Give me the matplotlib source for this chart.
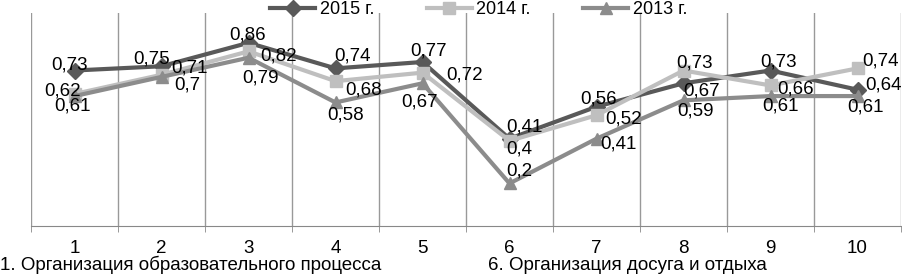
import matplotlib.pyplot as plt

plt.rcParams['font.family'] = ['Liberation Sans', 'DejaVu Sans']

categories = [1, 2, 3, 4, 5, 6, 7, 8, 9, 10]
labels_2015 = '2015 г.'
labels_2014 = '2014 г.'
labels_2013 = '2013 г.'
values_2015 = [0.73, 0.75, 0.86, 0.74, 0.77, 0.41, 0.56, 0.67, 0.73, 0.64]
values_2014 = [0.62, 0.71, 0.82, 0.68, 0.72, 0.40, 0.52, 0.73, 0.66, 0.74]
values_2013 = [0.61, 0.70, 0.79, 0.58, 0.67, 0.20, 0.41, 0.59, 0.61, 0.61]
footnotes = ['1. Организация образовательного процесса', '6. Организация досуга и отдыха']

# label offsets in pixels (dx, dy), Excel-like placement
off_2015 = [(-5, 6), (-10, 7), (-1, 8), (17, 12), (6, 11), (15, 12), (2, 8), (18, -8), (8, 9), (26, 5)]
off_2014 = [(-12, 3), (28, 7), (30, -5), (28, -9), (42, -2), (10, -8), (27, -4), (11, 8), (25, -4), (23, 7)]
off_2013 = [(-2, -10), (26, -8), (12, -20), (10, -13), (-3, -19), (10, 12), (22, -5), (12, -11), (10, -10), (8, -11)]

fs = 13.5

fig = plt.figure(figsize=(9.03, 2.75), dpi=100)
ax = fig.add_axes([31 / 903, 49 / 275, 870 / 903, 213 / 275])

series = [
    (labels_2015, values_2015, '#595959', 'D', 8, off_2015, 3),
    (labels_2014, values_2014, '#bfbfbf', 's', 9, off_2014, 4),
    (labels_2013, values_2013, '#8c8c8c', '^', 9, off_2013, 5),
]
for name, vals, col, mk, ms, offs, z in series:
    ax.plot(categories, vals, color=col, lw=3, marker=mk, markersize=ms, label=name, zorder=z)
    for x, v, (dx, dy) in zip(categories, vals, offs):
        ax.annotate(f'{v:g}'.replace('.', ','), (x, v), xytext=(dx, dy), textcoords='offset pixels',
                    ha='center', va='center', fontsize=fs, color='black', zorder=10)

ax.set_xlim(0.5, 10.5)
ax.set_ylim(0, 1)
ax.set_yticks([])
for s in ['left', 'right', 'top']:
    ax.spines[s].set_visible(False)
ax.spines['bottom'].set_color('#888888')
ax.set_xticks(categories)
ax.set_xticklabels([str(c) for c in categories], fontsize=fs)
ax.tick_params(axis='x', which='major', length=0, pad=10)
ax.set_xticks([c - 0.5 for c in categories] + [10.5], minor=True)
ax.tick_params(axis='x', which='minor', length=4, color='#888888', direction='out')
ax.grid(True, axis='x', which='minor', color='#999999', lw=1)
ax.set_axisbelow(True)

fig.text(0, 5 / 275, footnotes[0], fontsize=fs, ha='left', va='baseline')
fig.text(488 / 903, 5 / 275, footnotes[1], fontsize=fs, ha='left', va='baseline')

fig.legend(loc='upper center', bbox_to_anchor=(0.53, 1.055), ncol=3, frameon=False,
           fontsize=13, handlelength=2.5, columnspacing=2.9, handletextpad=0.25)

fig.savefig('out.png', dpi=100)
